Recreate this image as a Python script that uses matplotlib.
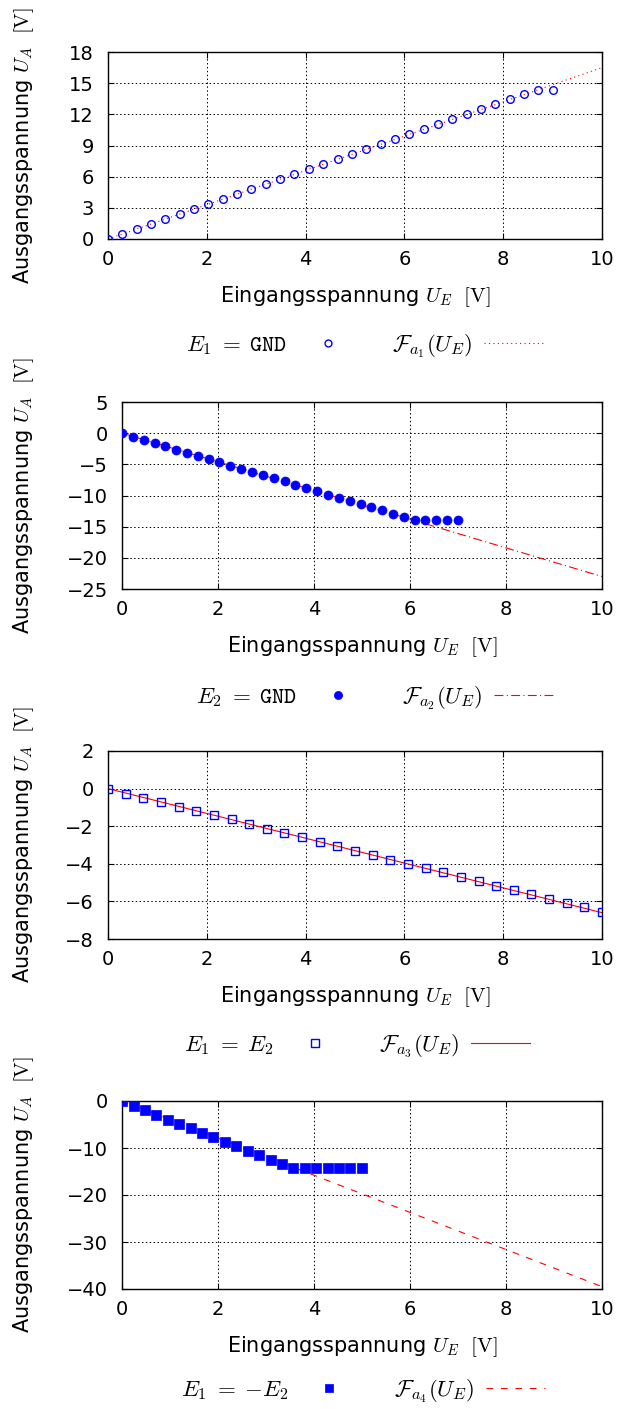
import numpy as np
import matplotlib
matplotlib.use('Agg')
import matplotlib.pyplot as plt

plt.rcParams['font.family'] = ['DejaVu Sans']
plt.rcParams['mathtext.fontset'] = 'cm'
plt.rcParams['axes.unicode_minus'] = True

# --- data ---
x1 = [0, 0.29, 0.58, 0.87, 1.16, 1.45, 1.74, 2.03, 2.32, 2.61, 2.90, 3.19, 3.48, 3.77, 4.06, 4.35,
      4.65, 4.94, 5.23, 5.52, 5.81, 6.10, 6.39, 6.68, 6.97, 7.26, 7.55, 7.84, 8.13, 8.42, 8.71, 9.00]
y1 = [0, 0.48, 0.93, 1.45, 1.93, 2.41, 2.89, 3.41, 3.89, 4.37, 4.82, 5.30, 5.79, 6.27, 6.75, 7.23,
      7.71, 8.20, 8.68, 9.16, 9.64, 10.13, 10.61, 11.09, 11.57, 12.05, 12.54, 13.02, 13.50, 13.98, 14.30, 14.30]
fit1_x = [0, 10]
fit1_y = [0, 16.5]

x2 = [0, 0.23, 0.45, 0.68, 0.90, 1.13, 1.35, 1.58, 1.81, 2.03, 2.26, 2.48, 2.71, 2.94, 3.16, 3.39,
      3.61, 3.84, 4.06, 4.29, 4.52, 4.74, 4.97, 5.19, 5.42, 5.65, 5.87, 6.10, 6.32, 6.55, 6.77, 7.00]
y2 = [0, -0.55, -1.08, -1.56, -2.10, -2.63, -3.16, -3.65, -4.18, -4.66, -5.19, -5.73, -6.26, -6.74,
      -7.27, -7.75, -8.29, -8.77, -9.30, -9.84, -10.37, -10.85, -11.38, -11.92, -12.40, -12.94, -13.47,
      -14.0, -14.0, -14.0, -14.0, -14.0]
fit2_x = [0, 10]
fit2_y = [0, -23.0]

x3 = [0, 0.36, 0.71, 1.07, 1.43, 1.79, 2.14, 2.50, 2.86, 3.21, 3.57, 3.93, 4.29, 4.64, 5.00, 5.36,
      5.71, 6.07, 6.43, 6.79, 7.14, 7.50, 7.86, 8.21, 8.57, 8.93, 9.29, 9.64, 10.0]
y3 = [0, -0.27, -0.50, -0.73, -0.96, -1.19, -1.42, -1.63, -1.88, -2.13, -2.36, -2.59, -2.84, -3.07,
      -3.30, -3.53, -3.78, -3.99, -4.24, -4.45, -4.70, -4.93, -5.16, -5.39, -5.62, -5.85, -6.08, -6.31, -6.54]
fit3_x = [0, 10]
fit3_y = [0, -6.6]

x4 = [0, 0.24, 0.48, 0.71, 0.95, 1.19, 1.43, 1.67, 1.90, 2.14, 2.38, 2.62, 2.86, 3.10, 3.33, 3.57,
      3.81, 4.05, 4.29, 4.52, 4.76, 5.00]
y4 = [0, -1.13, -1.98, -3.04, -3.96, -4.88, -5.80, -6.79, -7.71, -8.63, -9.62, -10.54, -11.54, -12.46,
      -13.38, -14.15, -14.15, -14.15, -14.15, -14.15, -14.15, -14.15]
fit4_x = [0, 10]
fit4_y = [0, -39.5]

labels_data = [r'$E_1 \;=\; \mathtt{GND}$', r'$E_2 \;=\; \mathtt{GND}$',
               r'$E_1 \;=\; E_2$', r'$E_1 \;=\; {-}E_2$']
labels_fit = [r'$\mathcal{F}_{a_1}(U_E)$', r'$\mathcal{F}_{a_2}(U_E)$',
              r'$\mathcal{F}_{a_3}(U_E)$', r'$\mathcal{F}_{a_4}(U_E)$']
yticks = [np.arange(0, 19, 3), np.arange(-25, 6, 5), np.arange(-8, 3, 2), np.arange(-40, 1, 10)]
ylims = [(0, 18), (-25, 5), (-8, 2), (-40, 0)]

W, H = 643, 1409
fig = plt.figure(figsize=(W / 100, H / 100), dpi=100)

# axes boxes in pixels: left, right, top, bottom
boxes = [(108, 602, 52, 239), (122, 602, 402, 589), (108, 602, 751, 939), (122, 602, 1101, 1289)]
legend_y = [346, 698, 1046, 1391]
legend_x = [365, 375, 357, 363]

series = [(x1, y1, fit1_x, fit1_y), (x2, y2, fit2_x, fit2_y),
          (x3, y3, fit3_x, fit3_y), (x4, y4, fit4_x, fit4_y)]
mk = [dict(marker='o', mfc='none', mec='blue', ms=5.5, mew=1.0),
      dict(marker='o', mfc='blue', mec='blue', ms=6.5, mew=0.5),
      dict(marker='s', mfc='none', mec='blue', ms=6.0, mew=1.0),
      dict(marker='s', mfc='blue', mec='blue', ms=6.5, mew=0.5)]
dash = [(1, 3), (8, 3, 1, 3), None, (6, 7)]

for i in range(4):
    l, r, t, b = boxes[i]
    ax = fig.add_axes([l / W, 1 - b / H, (r - l) / W, (b - t) / H])
    xs, ys, fx, fy = series[i]
    line, = ax.plot(fx, fy, color='red', lw=0.8, label=labels_fit[i], zorder=2)
    if dash[i] is not None:
        line.set_dashes(dash[i])
    pts, = ax.plot(xs, ys, ls='none', label=labels_data[i], zorder=3, **mk[i])
    ax.set_xlim(0, 10)
    ax.set_ylim(*ylims[i])
    ax.set_xticks(np.arange(0, 11, 2))
    ax.set_yticks(yticks[i])
    ax.grid(True, color='black', ls=(0, (1.5, 2.5)), lw=0.7)
    ax.tick_params(direction='in', top=True, right=True, labelsize=14, length=4)
    ax.tick_params(axis='x', pad=8)
    ax.tick_params(axis='y', pad=10)
    ax.set_xlabel(r'Eingangsspannung $U_E\ \ [\mathrm{V}]$', fontsize=15, labelpad=11)
    ax.set_ylabel(r'Ausgangsspannung $U_A\ \ [\mathrm{V}]$', fontsize=15)
    ax.yaxis.set_label_coords(-(l - 36) / (r - l), 0.5)
    for s in ax.spines.values():
        s.set_linewidth(1.0)
    fig.legend([pts, line], [labels_data[i], labels_fit[i]], ncol=2, markerfirst=False,
               frameon=False, loc='center', bbox_to_anchor=(legend_x[i] / W, 1 - legend_y[i] / H),
               fontsize=16.5, markerscale=0.9, handlelength=2.6, handletextpad=0.5,
               columnspacing=1.5)

fig.savefig('out.png', dpi=100)
